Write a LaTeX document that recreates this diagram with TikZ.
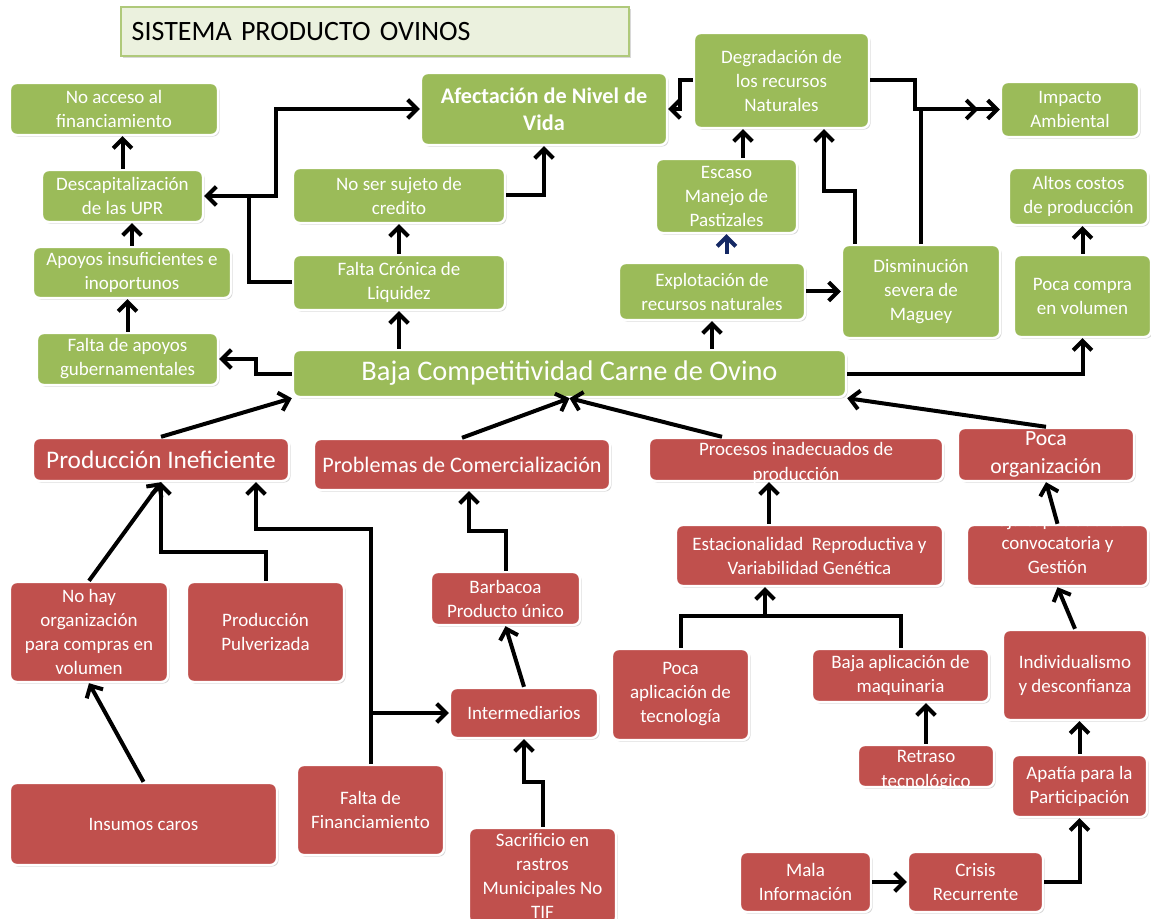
\documentclass[tikz,border=0pt]{standalone}
\usepackage{fontspec}
\setmainfont{Carlito}
\usetikzlibrary{arrows.meta,shadows}
\definecolor{ovgreen}{RGB}{155,187,89}
\definecolor{ovred}{RGB}{192,80,77}
\definecolor{ovtitle}{RGB}{235,241,222}
\definecolor{ovnavy}{RGB}{20,40,100}

\tikzset{
  box/.style={rounded corners=5pt, draw=white, line width=1.8pt, text=white, align=center,
    font=\fontsize{14.25}{18}\selectfont, inner sep=2pt,
    drop shadow={shadow xshift=1.2pt, shadow yshift=-1.2pt, opacity=0.3}},
  gbox/.style={box, fill=ovgreen},
  rbox/.style={box, fill=ovred},
  boxtxt/.style={text=white, align=center, inner sep=0pt, font=\fontsize{14.25}{18.75}\selectfont},
  titlebox/.style={fill=ovtitle, draw=ovgreen!80, line width=1pt, align=left, text width=365pt,
    inner xsep=8pt, font=\fontsize{21}{26}\selectfont,
    drop shadow={shadow xshift=1.2pt, shadow yshift=-1.2pt, opacity=0.3}},
  sz/.style 2 args={minimum width=#1*0.75pt, minimum height=#2*0.75pt},
  arr/.style={line width=3pt, -{Straight Barb[length=7pt,width=14pt]}},
  ln/.style={line width=3pt},
}

\begin{document}
\begin{tikzpicture}[x=0.75pt,y=0.75pt,yscale=-1,xscale=1]
\fill[white] (0,0) rectangle (1151,919);
\useasboundingbox (0,0) rectangle (1151,919);

% Title
\draw (375,31.5) node [titlebox, sz={508}{49}] (titulo) {SISTEMA PRODUCTO OVINOS};

% Green boxes
\draw (114,109) node [gbox, sz={208}{52}] (noacceso) {No acceso al\\financiamiento};
\draw (544,109) node [gbox, sz={246}{72}, font=\fontsize{16.7}{20}\selectfont\bfseries] (afect) {Afectación de Nivel de\\Vida};
\draw (781.5,80.5) node [gbox, sz={175}{95}] (degrad) {Degradación de\\los recursos\\Naturales};
\draw (1070,109.5) node [gbox, sz={138}{55}] (impacto) {Impacto\\Ambiental};
\draw (122.5,196) node [gbox, sz={161}{52}] (descap) {Descapitalización\\de las UPR};
\draw (399,195.5) node [gbox, sz={212}{55}] (nosujeto) {No ser sujeto de\\credito};
\draw (726.5,196) node [gbox, sz={141}{74}] (escaso) {Escaso\\Manejo de\\Pastizales};
\draw (1078.5,196.5) node [gbox, sz={139}{57}] (altos) {Altos costos\\de producción};
\draw (132,272.5) node [gbox, sz={198}{51}] (apoyos) {Apoyos insuficientes e\\inoportunos};
\draw (399,282.5) node [gbox, sz={212}{55}] (faltacron) {Falta Crónica de\\Liquidez};
\draw (712,291.5) node [gbox, sz={186}{57}] (explot) {Explotación de\\recursos naturales};
\draw (921,291.5) node [gbox, sz={158}{93}] (disminu) {Disminución\\severa de\\Maguey};
\draw (1082.5,296) node [gbox, sz={137}{82}] (pococompra) {Poca compra\\en volumen};
\draw (127.5,359) node [gbox, sz={181}{52}] (faltaapoyos) {Falta de apoyos\\gubernamentales};
\draw (569.5,373.5) node [gbox, sz={553}{47}, font=\fontsize{21.3}{26}\selectfont] (baja) {Baja Competitividad Carne de Ovino};

% Red boxes
\draw (161,459.5) node [rbox, sz={256}{43}, font=\fontsize{19}{23}\selectfont] (prodinef) {Producción Ineficiente};
\draw (462,464.5) node [rbox, sz={296}{51}, font=\fontsize{16.6}{20}\selectfont] (problemas) {Problemas de Comercialización};
\draw (796,459.5) node [rbox, sz={294}{43}, label={[boxtxt, yshift=-2.5pt]center:{Procesos inadecuados de\\producción}}] (procesos) {};
\draw (1046,454.5) node [rbox, sz={176}{53}, inner ysep=0pt, font=\fontsize{16.3}{21}\selectfont] (pocaorg) {Poca\\organización};
\draw (809.5,555.5) node [rbox, sz={267}{61}] (estac) {Estacionalidad~ Reproductiva y\\Variabilidad Genética};
\draw (1057.5,555.5) node [rbox, sz={181}{61}, label={[boxtxt, label distance=-5pt]above:Baja capacidad de}] (convoc) {convocatoria y\\Gestión};
\draw (505.5,598.5) node [rbox, sz={149}{53}] (barbacoa) {Barbacoa\\Producto único};
\draw (89,632) node [rbox, sz={158}{100}] (nohay) {No hay\\organización\\para compras en\\volumen};
\draw (265.5,632) node [rbox, sz={157}{100}] (pulver) {Producción\\Pulverizada};
\draw (680.5,694.5) node [rbox, sz={137}{91}] (pocaapl) {Poca\\aplicación de\\tecnología};
\draw (900.5,675.5) node [rbox, sz={177}{53}] (bajaapl) {Baja aplicación de\\maquinaria};
\draw (1075,675) node [rbox, sz={144}{90}] (individ) {Individualismo\\y desconfianza};
\draw (524,713) node [rbox, sz={148}{50}] (intermed) {Intermediarios};
\draw (926,766) node [rbox, sz={136}{42}, label={[boxtxt, yshift=-3.5pt]center:{Retraso\\tecnológico}}] (retraso) {};
\draw (1079.5,786) node [rbox, sz={135}{62}] (apatia) {Apatía para la\\Participación};
\draw (143.5,824) node [rbox, sz={267}{82}] (insumos) {Insumos caros};
\draw (370.5,810) node [rbox, sz={147}{90}] (faltafin) {Falta de\\Financiamiento};
\draw (542.5,876) node [rbox, sz={147}{96}] (sacrif) {Sacrificio en\\rastros\\Municipales No\\TIF};
\draw (805.5,882) node [rbox, sz={131}{60}] (mala) {Mala\\Información};
\draw (975.5,882) node [rbox, sz={135}{60}] (crisis) {Crisis\\Recurrente};

% Upper connectors
\draw[arr] (baja.north -| faltacron.south) -- (faltacron.south);
\draw[arr] (faltacron.north) -- (nosujeto.south);
\draw[arr] (nosujeto.east) -| (afect.south);
\coordinate (jliq) at (249,196);
\draw[arr] (faltacron.west) -| (jliq) -- (descap.east);
\draw[arr] (jliq) -- ++(27,0) |- (afect.west);
\draw[arr] (descap.north) -- (descap.north |- noacceso.south);
\draw[arr] (apoyos.north) -- (apoyos.north |- descap.south);
\draw[arr] (faltaapoyos.north) -- (faltaapoyos.north |- apoyos.south);
\draw[arr] (baja.west) -- ++(-36,0) |- (faltaapoyos.east);
\draw[arr] (baja.north -| explot.south) -- (explot.south);
\draw[arr] (explot.east) -- (disminu.west);
\draw[arr, ovnavy, shorten <=6pt] (explot.north -| escaso.south) -- (escaso.south);
\draw[arr] (escaso.north -| 743,0) -- (degrad.south -| 743,0);
\draw[arr] (disminu.north -| 855,0) -- ++(0,-53) -| (degrad.south -| 824,0);
\draw[arr] (degrad.east) -- ++(45,0) |- ([xshift=-16pt]impacto.west);
\draw[arr] (disminu.north) |- (impacto.west);
\draw[arr] (degrad.west) -- ++(-13,0) |- (afect.east);
\draw[arr] (pococompra.north) -- (pococompra.north |- altos.south);
\draw[arr] (baja.east) -| (pococompra.south);

% Into Baja Competitividad
\draw[arr] (prodinef.north) -- (baja.south west);
\draw[arr] (problemas.north) -- (baja.south);
\draw[arr] (procesos.north -| 722,0) -- (baja.south);
\draw[arr] (pocaorg.north) -- (baja.south east);

% Lower connectors
\draw[arr] (estac.north -| 769,0) -- (procesos.south -| 769,0);
\draw[arr] (convoc.north) -- (pocaorg.south);
\coordinate (jtec) at (765,616);
\draw[ln] (pocaapl.north) |- (jtec) -| (bajaapl.north);
\draw[arr] (jtec) -- (jtec |- estac.south);
\draw[arr] (individ.north) -- (convoc.south);
\draw[arr] (retraso.north) -- (retraso.north |- bajaapl.south);
\draw[arr] (apatia.north) -- (apatia.north |- individ.south);
\draw[arr] (mala.east) -- (crisis.west);
\draw[arr] (crisis.east) -| (apatia.south);
\draw[arr] (nohay.north) -- (prodinef.south);
\draw[arr] (pulver.north) -- ++(0,-29) -| (prodinef.south);
\draw[arr] (faltafin.north) -- ++(0,-235) -| (prodinef.south -| 256,0);
\draw[arr] (faltafin.north |- intermed.west) -- (intermed.west);
\draw[arr] (barbacoa.north) -- ++(0,-40) -| (problemas.south -| 469,0);
\draw[arr] (intermed.north) -- (barbacoa.south);
\draw[arr] (sacrif.north) -- ++(0,-45) -| (intermed.south);
\draw[arr] (insumos.north) -- (nohay.south);

\end{tikzpicture}
\end{document}
